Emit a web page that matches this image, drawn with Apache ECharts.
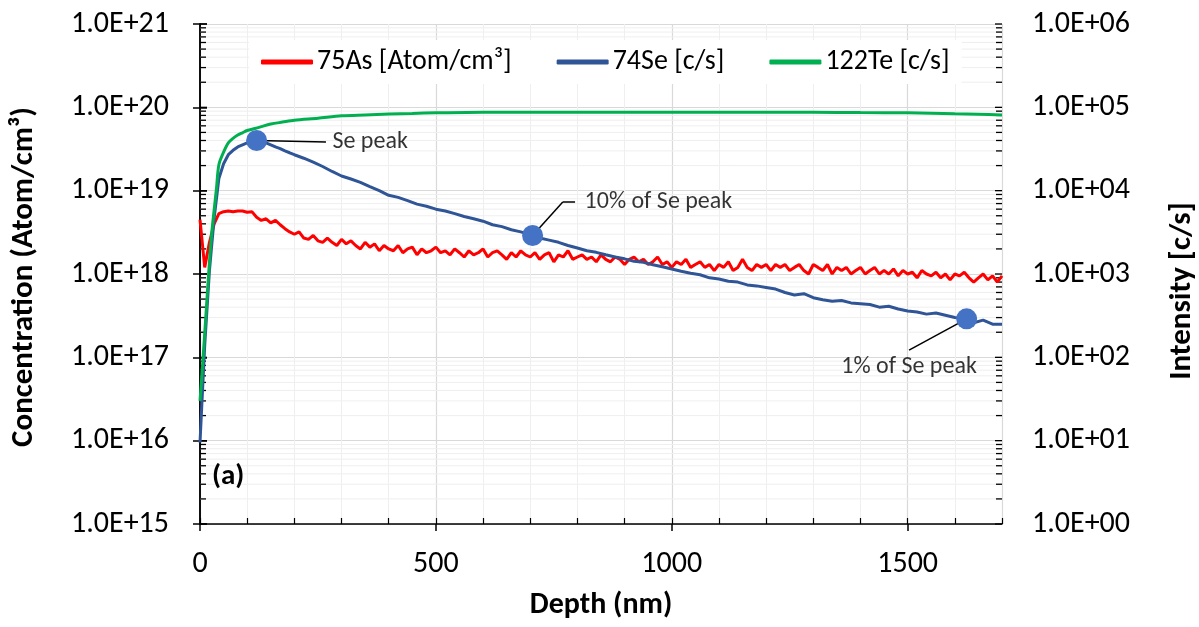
<!DOCTYPE html>
<html>
<head>
<meta charset="utf-8">
<script src="https://cdn.jsdelivr.net/npm/echarts@6/dist/echarts.min.js"></script>
<style>
html,body{margin:0;padding:0;background:#fff;}
#chart{width:1199px;height:627px;}
</style>
</head>
<body>
<div id="chart"></div>
<script>
// ---------- DATA ----------
const asDepth = [0,10,20,30,40,50,60,70,80,90,100,110,120,130,140,150,160,170,180,190,
200,210,220,230,240,250,260,270,280,290,300,310,320,330,340,350,360,370,380,390,
400,410,420,430,440,450,460,470,480,490,500,510,520,530,540,550,560,570,580,590,
600,610,620,630,640,650,660,670,680,690,700,710,720,730,740,750,760,770,780,790,
800,810,820,830,840,850,860,870,880,890,900,910,920,930,940,950,960,970,980,990,
1000,1010,1020,1030,1040,1050,1060,1070,1080,1090,1100,1110,1120,1130,1140,1150,1160,1170,1180,1190,
1200,1210,1220,1230,1240,1250,1260,1270,1280,1290,1300,1310,1320,1330,1340,1350,1360,1370,1380,1390,
1400,1410,1420,1430,1440,1450,1460,1470,1480,1490,1500,1510,1520,1530,1540,1550,1560,1570,1580,1590,
1600,1610,1620,1630,1640,1650,1660,1670,1680,1690,1700];
const as75 = [4.5e18,1.2e18,2.4e18,4.0e18,5.3e18,5.6e18,5.7e18,5.6e18,5.7e18,5.7e18,5.5e18,5.6e18,4.8e18,4.4e18,4.6e18,4.1e18,4.4e18,3.9e18,3.5e18,3.2e18,
3.0e18,3.2e18,2.7e18,2.6e18,2.9e18,2.5e18,2.4e18,2.7e18,2.4e18,2.2e18,2.6e18,2.3e18,2.5e18,2.2e18,2.0e18,2.4e18,2.1e18,2.3e18,1.9e18,2.2e18,
2.0e18,1.9e18,2.2e18,1.8e18,2.0e18,2.1e18,1.7e18,2.0e18,1.8e18,1.9e18,2.1e18,1.8e18,1.9e18,1.7e18,2.0e18,1.8e18,1.6e18,1.9e18,1.7e18,1.8e18,
2.0e18,1.6e18,1.8e18,1.9e18,1.7e18,1.5e18,1.8e18,1.6e18,1.9e18,1.7e18,1.6e18,1.8e18,1.5e18,1.7e18,1.8e18,1.4e18,1.7e18,1.6e18,1.9e18,1.5e18,
1.6e18,1.7e18,1.5e18,1.6e18,1.4e18,1.7e18,1.5e18,1.4e18,1.6e18,1.5e18,1.3e18,1.5e18,1.6e18,1.4e18,1.5e18,1.3e18,1.4e18,1.6e18,1.3e18,1.4e18,
1.2e18,1.4e18,1.3e18,1.5e18,1.2e18,1.3e18,1.4e18,1.2e18,1.3e18,1.1e18,1.3e18,1.2e18,1.4e18,1.1e18,1.2e18,1.5e18,1.2e18,1.1e18,1.3e18,1.2e18,
1.3e18,1.1e18,1.3e18,1.2e18,1.3e18,1.1e18,1.2e18,1.3e18,1.1e18,1.0e18,1.3e18,1.2e18,1.1e18,1.3e18,1.0e18,1.2e18,1.1e18,1.2e18,1.0e18,1.1e18,
1.2e18,1.0e18,1.1e18,1.2e18,1.0e18,1.1e18,1.0e18,1.15e18,0.95e18,1.1e18,1.0e18,1.05e18,0.9e18,1.1e18,1.0e18,0.95e18,1.05e18,0.9e18,1.0e18,0.85e18,
1.0e18,0.95e18,1.05e18,0.9e18,0.8e18,0.9e18,1.0e18,0.85e18,0.95e18,0.8e18,0.95e18];

const seDepth = [0,10,20,30,40,50,60,70,80,90,100,110,120,130,140,150,160,170,180,190,200,
220,240,260,280,300,320,340,360,380,400,420,440,460,480,500,520,540,560,580,600,
620,640,660,680,700,720,740,760,780,800,820,840,860,880,900,920,940,960,980,1000,
1020,1040,1060,1080,1100,1120,1140,1160,1180,1200,1220,1240,1260,1280,1300,1320,1340,1360,1380,1400,
1420,1440,1460,1480,1500,1520,1540,1560,1580,1600,1620,1640,1660,1680,1700];
const se74 = [9.5,140,1100,4700,14000,21000,27000,30500,33500,35500,37500,39000,40000,39000,37500,35500,33500,32000,30000,28500,27000,
24500,22000,19500,17000,15000,13800,12600,11200,10000,8800,8300,7600,6900,6500,6000,5700,5300,4900,4600,4300,
3900,3700,3400,3200,2950,2700,2550,2400,2200,2050,1900,1820,1700,1600,1520,1420,1380,1290,1220,1150,
1080,1020,980,900,870,820,800,740,720,690,660,600,560,580,520,490,470,480,450,440,
430,400,410,380,360,350,330,340,320,300,295,260,280,250,250];

const teDepth = [0,5,10,15,20,25,30,35,40,50,60,70,80,90,100,125,150,175,200,250,300,350,400,450,500,
600,700,800,900,1000,1100,1200,1300,1400,1500,1600,1650,1700];
const te122 = [30,74,195,525,1380,3150,5900,10800,20500,29000,37500,42500,46500,49500,52700,57500,63000,66500,70000,74000,79000,81000,83000,84500,86000,
87500,87500,87500,87500,87500,87500,87500,87000,86500,86000,83500,82500,81000];

// marked points on the Se profile: [depth, c/s]
const sePeakPoints = [[120,40000],[705,2900],[1625,290]];
const annotTexts = ['Se peak','10% of Se peak','1% of Se peak'];

const leftTickLabels = ['1.0E+15','1.0E+16','1.0E+17','1.0E+18','1.0E+19','1.0E+20','1.0E+21'];
const rightTickLabels = ['1.0E+00','1.0E+01','1.0E+02','1.0E+03','1.0E+04','1.0E+05','1.0E+06'];
const xTickLabels = ['0','500','1000','1500'];

const seriesNames = ['75As [Atom/cm³]','74Se [c/s]','122Te [c/s]'];

// ---------- CHART ----------
const FONT = 'Carlito, Lato, sans-serif';
const zip = (a,b) => a.map((v,i) => [v,b[i]]);

// axis decoration values (minor log levels) for gridlines / ticks
const logLevels = [];
for (let e = 15; e < 21; e++) {
  for (let m = 1; m <= 9; m++) logLevels.push([0, m * Math.pow(10, e), m === 1 ? 1 : 0]);
}
logLevels.push([0, 1e21, 1]);

const chart = echarts.init(document.getElementById('chart'), null, {renderer:'canvas'});

const option = {
  animation: false,
  backgroundColor: '#fff',
  textStyle: {fontFamily: FONT, color: '#000'},
  grid: {left: 200, right: 197, top: 24, bottom: 103, containLabel: false, outerBoundsMode: 'none'},
  legend: {
    data: seriesNames,
    left: 249, top: 40,
    padding: [8, 12],
    backgroundColor: '#fff',
    itemWidth: 52, itemHeight: 5, itemGap: 45,
    icon: 'roundRect',
    textStyle: {fontFamily: FONT, fontSize: 28, color: '#000', padding: [0,0,0,-1]}
  },
  xAxis: [{
    type: 'value', min: 0, max: 1700, interval: 500,
    position: 'bottom',
    axisLine: {show: true, onZero: false, lineStyle: {color: '#000', width: 1.5}},
    axisTick: {show: true, inside: false, length: 7, lineStyle: {color: '#000', width: 1.5}},
    minorTick: {show: false, splitNumber: 5},
    minorSplitLine: {show: true, lineStyle: {color: '#efefef', width: 1}},
    splitLine: {show: true, lineStyle: {color: '#d9d9d9', width: 1.2}},
    axisLabel: {fontFamily: FONT, fontSize: 30, color: '#000', margin: 25, showMaxLabel: false,
      formatter: (v) => { const i = Math.round(v / 500); return xTickLabels[i] !== undefined && v % 500 === 0 ? xTickLabels[i] : ''; }},
    name: 'Depth (nm)', nameLocation: 'middle', nameGap: 66,
    nameTextStyle: {fontFamily: FONT, fontSize: 30, fontWeight: 'bold', color: '#000'}
  }, {
    type: 'value', min: 0, max: 1700, interval: 100,
    position: 'bottom',
    axisLine: {show: false},
    axisTick: {show: true, inside: true, length: 6, lineStyle: {color: '#000', width: 1.2}},
    axisLabel: {show: false},
    splitLine: {show: false}
  }],
  yAxis: [{
    type: 'log', logBase: 10, min: 1e15, max: 1e21,
    position: 'left',
    axisLine: {show: true, lineStyle: {color: '#000', width: 1.5}},
    axisTick: {show: true, inside: false, length: 7, lineStyle: {color: '#000', width: 1.5}},
    splitLine: {show: true, lineStyle: {color: '#d9d9d9', width: 1.2}},
    axisLabel: {fontFamily: FONT, fontSize: 30, color: '#000', margin: 31,
      formatter: (v) => leftTickLabels[Math.round(Math.log10(v)) - 15]},
    name: 'Concentration (Atom/cm³)', nameLocation: 'middle', nameRotate: 90, nameGap: 160,
    nameTextStyle: {fontFamily: FONT, fontSize: 31, fontWeight: 'bold', color: '#000', padding: [0, 6, 0, 0]}
  }, {
    type: 'log', logBase: 10, min: 1, max: 1e6,
    position: 'right',
    axisLine: {show: true, lineStyle: {color: '#000', width: 1.5}},
    axisTick: {show: true, inside: false, length: 7, lineStyle: {color: '#000', width: 1.5}},
    splitLine: {show: false},
    axisLabel: {fontFamily: FONT, fontSize: 30, color: '#000', margin: 30,
      formatter: (v) => rightTickLabels[Math.round(Math.log10(v))]},
    name: 'Intensity [c/s]', nameLocation: 'middle', nameRotate: 90, nameGap: 165,
    nameTextStyle: {fontFamily: FONT, fontSize: 31, fontWeight: 'bold', color: '#000', padding: [0, 34, 0, 0]}
  }],
  series: [
    {
      type: 'custom', name: 'grid-minor', xAxisIndex: 0, yAxisIndex: 0, z: 1, silent: true,
      data: logLevels, clip: false,
      renderItem: function (params, api) {
        const v = api.value(1);
        const major = api.value(2) === 1;
        const p0 = api.coord([0, v]);
        const p1 = api.coord([1700, v]);
        const children = [];
        if (!major) {
          children.push({type: 'line', shape: {x1: p0[0], y1: p0[1], x2: p1[0], y2: p1[1]},
            style: {stroke: '#efefef', lineWidth: 1}});
        }
        const len = major ? 7 : 6;
        children.push({type: 'line', shape: {x1: p0[0], y1: p0[1], x2: p0[0] + len, y2: p0[1]},
          style: {stroke: '#000', lineWidth: 1.3}, z2: 10});
        children.push({type: 'line', shape: {x1: p1[0] - len, y1: p1[1], x2: p1[0], y2: p1[1]},
          style: {stroke: '#000', lineWidth: 1.3}, z2: 10});
        return {type: 'group', children: children};
      }
    },
    {
      type: 'line', name: seriesNames[0], xAxisIndex: 0, yAxisIndex: 0, z: 3,
      data: zip(asDepth, as75), showSymbol: false, symbol: 'none',
      lineStyle: {color: '#FF0000', width: 3}, itemStyle: {color: '#FF0000'}
    },
    {
      type: 'line', name: seriesNames[1], xAxisIndex: 0, yAxisIndex: 1, z: 4,
      data: zip(seDepth, se74), showSymbol: false, symbol: 'none',
      lineStyle: {color: '#2F5597', width: 3}, itemStyle: {color: '#2F5597'}
    },
    {
      type: 'line', name: seriesNames[2], xAxisIndex: 0, yAxisIndex: 1, z: 5,
      data: zip(teDepth, te122), showSymbol: false, symbol: 'none', smooth: 0.3,
      lineStyle: {color: '#00B050', width: 3}, itemStyle: {color: '#00B050'}
    },
    {
      type: 'scatter', name: 'Se markers', xAxisIndex: 0, yAxisIndex: 1, z: 8, silent: true,
      data: sePeakPoints, symbolSize: 21,
      itemStyle: {color: '#4472C4', opacity: 1},
      markLine: {
        silent: true, symbol: 'none', animation: false,
        label: {show: false},
        lineStyle: {color: '#000', width: 1.5, type: 'solid'},
        data: [
          [{coord: [120, 40000]}, {coord: [267, 38400]}],
          [{coord: [705, 2900]}, {coord: [769, 7310]}],
          [{coord: [769, 7310]}, {coord: [795, 7310]}],
          [{coord: [1625, 290]}, {coord: [1503, 122]}]
        ]
      }
    },
    {
      type: 'scatter', name: 'annotations', xAxisIndex: 0, yAxisIndex: 1, z: 9, silent: true,
      symbolSize: 1, itemStyle: {color: 'rgba(0,0,0,0)'},
      label: {show: true, fontFamily: FONT, fontSize: 24, color: '#000',
        formatter: (p) => p.data.text},
      data: [
        {value: [267, 38400], text: annotTexts[0], label: {position: 'right', distance: 6}},
        {value: [795, 7310], text: annotTexts[1], label: {position: 'right', distance: 9}},
        {value: [1503, 122], text: annotTexts[2], label: {position: 'bottom', distance: 4}}
      ]
    }
  ],
  graphic: [{
    type: 'text', left: 212, top: 462, z: 20,
    style: {text: '(a)', fontFamily: FONT, fontSize: 29, fontWeight: 'bold', fill: '#000'}
  }]
};
chart.setOption(option);
</script>
</body>
</html>
